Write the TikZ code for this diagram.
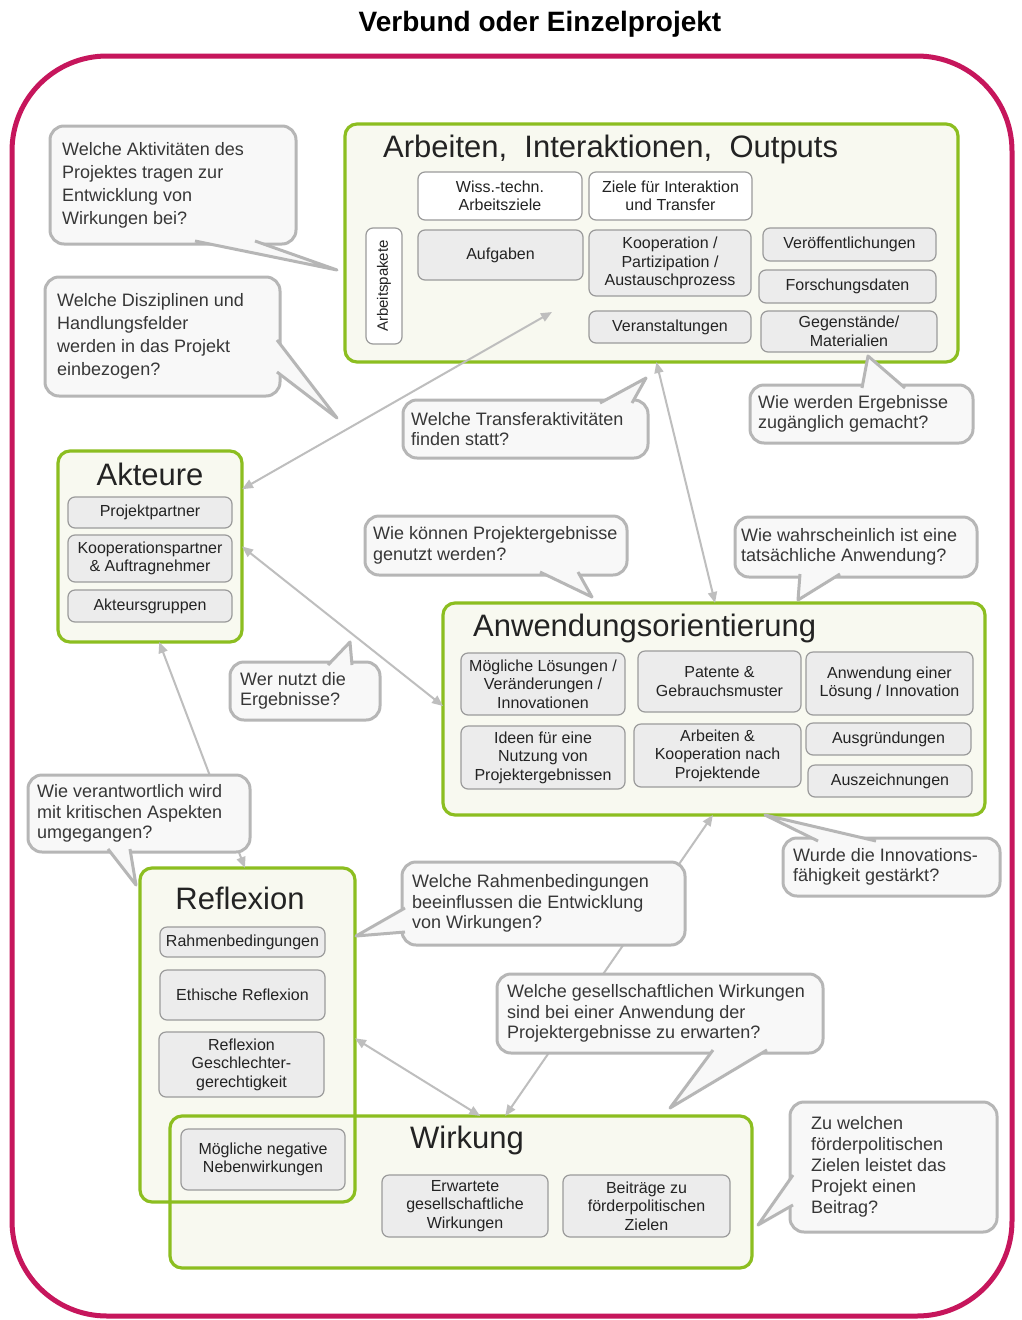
\documentclass[tikz,border=0pt]{standalone}
\usepackage{fontspec}
\setmainfont{Liberation Sans}
\usetikzlibrary{arrows.meta,calc}
\definecolor{mag}{RGB}{198,22,92}
\definecolor{grn}{RGB}{140,190,32}
\definecolor{boxfill}{RGB}{248,249,240}
\definecolor{subfill}{RGB}{236,236,236}
\definecolor{substroke}{RGB}{155,155,155}
\definecolor{bubfill}{RGB}{248,248,248}
\definecolor{bubstroke}{RGB}{182,182,182}
\definecolor{arrcol}{RGB}{190,190,190}
\definecolor{txt}{RGB}{35,35,35}
\definecolor{btxt}{RGB}{55,55,55}
\tikzset{
  mainbox/.style={draw=grn, line width=3.2, fill=boxfill, rounded corners=12, inner sep=0, outer sep=0},
  mainfillonly/.style={draw=none, fill=boxfill, rounded corners=12, inner sep=0, outer sep=0},
  mainline/.style={draw=grn, line width=3.2, rounded corners=12},
  boxtitle/.style={text=txt, font=\fontsize{31}{34}\selectfont, inner sep=0},
  subbox/.style={draw=substroke, line width=1.2, fill=subfill, rounded corners=7, align=center, inner sep=0, outer sep=0, text=txt, font=\fontsize{16}{18.5}\selectfont},
  subwhite/.style={subbox, fill=white},
  bubble/.style={draw=bubstroke, line width=3, fill=bubfill, rounded corners=14, inner sep=0, outer sep=0},
  bubtext/.style={align=left, inner sep=0, text=btxt, anchor=west},
  bubline/.style={draw=bubstroke, line width=3, line join=round},
  conn/.style={draw=arrcol, line width=2, {Triangle[length=11pt,width=9pt]}-{Triangle[length=11pt,width=9pt]}}
}
\newcommand\rbox[7]{\node[#6, minimum width={(#4-#2)*1pt}, minimum height={(#5-#3)*1pt}] (#1) at ({(#2+#4)/2},{(#3+#5)/2}) {#7};}
\newcommand\bub[8][20.5]{%
  \node[bubble, minimum width={(#5-#3)*1pt}, minimum height={(#6-#4)*1pt}] (#2) at ({(#3+#5)/2},{(#4+#6)/2}) {};
  \node[bubtext, font={\fontsize{18}{#1}\selectfont}] (#2t) at (#7,{(#4+#6)/2}) {#8};}
\newcommand\bubtail[3]{\fill[bubfill] #1 -- #3 -- #2 -- cycle; \draw[bubline] #1 -- #3 -- #2;}
\begin{document}
\begin{tikzpicture}[x=1pt,y=-1pt]
\useasboundingbox (0,0) rectangle (1022,1320);
\fill[white] (0,0) rectangle (1022,1320);

% title and frame
\node[font=\fontsize{28}{30}\selectfont\bfseries, text=black, inner sep=0] (ttl) at (540,24) {Verbund oder Einzelprojekt};
\draw[mag, line width=5, rounded corners=95] (12,56) rectangle (1012,1316);

% Arbeiten, Interaktionen, Outputs
\rbox{arb}{345}{124}{958}{362}{mainbox}{}
\node[boxtitle, anchor=west] (arbT) at (383,149) {Arbeiten, \ Interaktionen, \ Outputs};
\rbox{ws}{418}{172}{582}{220}{subwhite}{Wiss.-techn.\\Arbeitsziele}
\rbox{zi}{589}{172}{752}{220}{subwhite}{Ziele für Interaktion\\und Transfer}
\node[subwhite, rotate=90, minimum width=116pt, minimum height=36pt, font=\fontsize{15}{17}\selectfont] (ap) at (384,286) {Arbeitspakete};
\rbox{auf}{418}{230}{583}{280}{subbox}{Aufgaben}
\rbox{koop}{589}{230}{751}{296}{subbox}{Kooperation /\\Partizipation /\\Austauschprozess}
\rbox{ver}{763}{228}{936}{261}{subbox}{Veröffentlichungen}
\rbox{fd}{759}{270}{936}{303}{subbox}{Forschungsdaten}
\rbox{vst}{589}{311}{751}{343}{subbox}{Veranstaltungen}
\rbox{geg}{761}{311}{937}{352}{subbox}{Gegenstände/\\Materialien}

% Akteure
\rbox{akt}{58}{451}{242}{642}{mainbox}{}
\node[boxtitle] (aktT) at (150,474) {Akteure};
\rbox{pp}{68}{497}{232}{528}{subbox}{Projektpartner}
\rbox{kp}{68}{535}{232}{582}{subbox}{Kooperationspartner\\\& Auftragnehmer}
\rbox{ag}{68}{590}{232}{622}{subbox}{Akteursgruppen}

% Anwendungsorientierung
\rbox{anw}{443}{603}{985}{815}{mainbox}{}
\node[boxtitle, anchor=west] (anwT) at (473,628) {Anwendungsorientierung};
\rbox{ml}{461}{653}{625}{715}{subbox}{Mögliche Lösungen /\\Veränderungen /\\Innovationen}
\rbox{pg}{638}{651}{801}{712}{subbox}{Patente \&\\Gebrauchsmuster}
\rbox{al}{806}{652}{973}{715}{subbox}{Anwendung einer\\Lösung / Innovation}
\rbox{idn}{461}{726}{625}{789}{subbox}{Ideen für eine\\Nutzung von\\Projektergebnissen}
\rbox{akp}{634}{724}{801}{787}{subbox}{Arbeiten \&\\Kooperation nach\\Projektende}
\rbox{ausg}{806}{723}{971}{755}{subbox}{Ausgründungen}
\rbox{ausz}{808}{765}{972}{797}{subbox}{Auszeichnungen}

% Wirkung and Reflexion (overlapping)
\rbox{wir}{170}{1116}{752}{1268}{mainfillonly}{}
\rbox{ref}{140}{868}{355}{1202}{mainfillonly}{}
\draw[mainline] (wir.north west) rectangle (wir.south east);
\draw[mainline] (ref.north west) rectangle (ref.south east);
\node[boxtitle] (refT) at (240,898) {Reflexion};
\rbox{rb}{160}{927}{325}{957}{subbox}{Rahmenbedingungen}
\rbox{eth}{160}{970}{325}{1020}{subbox}{Ethische Reflexion}
\rbox{rg}{159}{1032}{324}{1097}{subbox}{Reflexion\\Geschlechter-\\gerechtigkeit}
\rbox{mn}{181}{1129}{345}{1190}{subbox}{Mögliche negative\\Nebenwirkungen}
\node[boxtitle] (wirT) at (467,1140) {Wirkung};
\rbox{eg}{382}{1175}{548}{1237}{subbox}{Erwartete\\gesellschaftliche\\Wirkungen}
\rbox{bz}{563}{1175}{730}{1237}{subbox}{Beiträge zu\\förderpolitischen\\Zielen}

% connectors
\coordinate (arbin) at (552,312);
\draw[conn] (arbin) -- ($(akt.north east)!0.2!(akt.south east)$);
\draw[conn] ($(arb.south west)!0.508!(arb.south east)$) -- ($(anw.north west)!0.502!(anw.north east)$);
\draw[conn] (akt.east) -- ($(anw.north west)!0.486!(anw.south west)$);
\draw[conn] ($(akt.south west)!0.55!(akt.south east)$) -- ($(ref.north west)!0.488!(ref.north east)$);
\draw[conn] ($(ref.north east)!0.51!(ref.south east)$) -- ($(wir.north west)!0.533!(wir.north east)$);
\draw[conn] ($(wir.north west)!0.576!(wir.north east)$) -- ($(anw.south west)!0.498!(anw.south east)$);

% speech bubbles
\bub[23]{q1}{50}{126}{296}{244}{62}{Welche Aktivitäten des\\Projektes tragen zur\\Entwicklung von\\Wirkungen bei?}
\bubtail{(195,241)}{(255,241)}{(337,270)}
\bub[23]{q2}{45}{277}{280}{396}{57}{Welche Disziplinen und\\Handlungsfelder\\werden in das Projekt\\einbezogen?}
\bubtail{(277,340)}{(277,372)}{(337,418)}
\bub{q3}{403}{400}{648}{458}{411}{Welche Transferaktivitäten\\finden statt?}
\bubtail{(600,403)}{(632,403)}{(646,378)}
\bub{q4}{750}{385}{973}{443}{758}{Wie werden Ergebnisse\\zugänglich gemacht?}
\bubtail{(862,388)}{(905,388)}{(868,356)}
\bub{q5}{365}{516}{627}{575}{373}{Wie können Projektergebnisse\\genutzt werden?}
\bubtail{(540,572)}{(578,572)}{(592,597)}
\bub{q6}{735}{517}{977}{577}{741}{Wie wahrscheinlich ist eine\\tatsächliche Anwendung?}
\bubtail{(800,574)}{(840,574)}{(798,600)}
\bub{q7}{230}{662}{380}{720}{240}{Wer nutzt die\\Ergebnisse?}
\bubtail{(328,665)}{(352,665)}{(350,642)}
\bub{q8}{28}{775}{250}{852}{37}{Wie verantwortlich wird\\mit kritischen Aspekten\\umgegangen?}
\bubtail{(108,849)}{(130,849)}{(136,885)}
\bub{q9}{402}{862}{685}{945}{412}{Welche Rahmenbedingungen\\beeinflussen die Entwicklung\\von Wirkungen?}
\bubtail{(405,908)}{(405,932)}{(356,936)}
\bub{q10}{497}{974}{823}{1053}{507}{Welche gesellschaftlichen Wirkungen\\sind bei einer Anwendung der\\Projektergebnisse zu erwarten?}
\bubtail{(713,1050)}{(767,1050)}{(670,1108)}
\bub{q11}{783}{838}{1000}{896}{793}{Wurde die Innovations-\\fähigkeit gestärkt?}
\bubtail{(818,841)}{(876,841)}{(765,815)}
\bub[21]{q12}{790}{1102}{997}{1232}{811}{Zu welchen\\förderpolitischen\\Zielen leistet das\\Projekt einen\\Beitrag?}
\bubtail{(793,1175)}{(793,1205)}{(758,1225)}
\end{tikzpicture}
\end{document}
